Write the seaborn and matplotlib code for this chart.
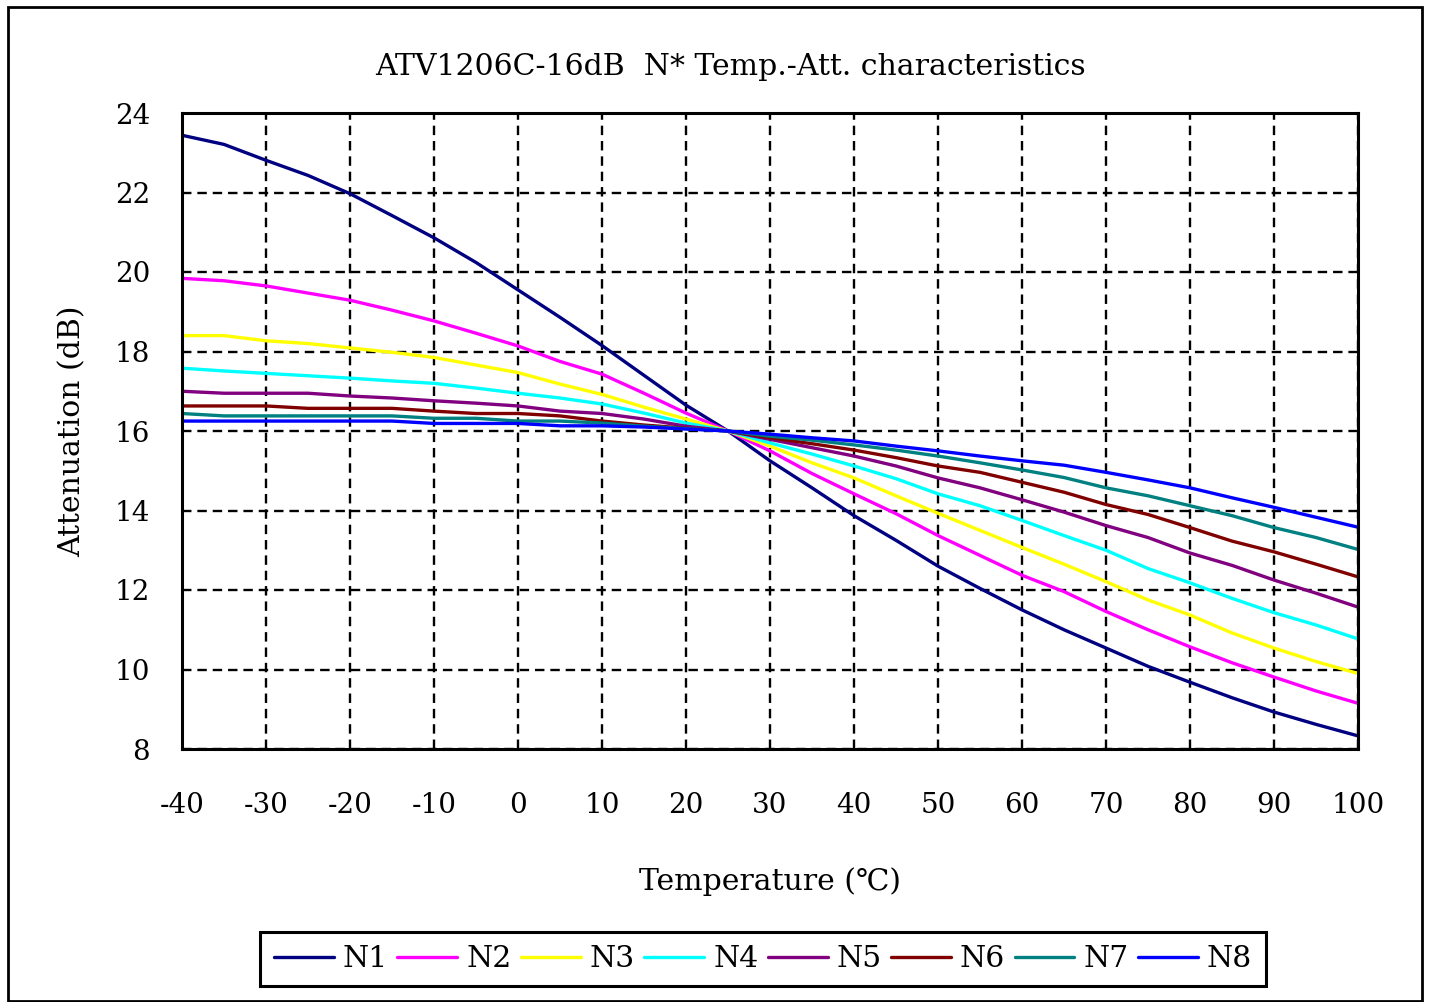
import numpy as np
import pandas as pd
import matplotlib
matplotlib.use("Agg")
import matplotlib.pyplot as plt
import seaborn as sns
from matplotlib.patches import Rectangle

temps = list(range(-40, 101, 5))

n1 = [23.44, 23.21, 22.81, 22.43, 21.97, 21.42, 20.86, 20.24, 19.55, 18.86, 18.15, 17.40, 16.65, 16.00,
      15.25, 14.57, 13.87, 13.25, 12.60, 12.04, 11.50, 11.00, 10.54, 10.08, 9.68, 9.29, 8.93, 8.62, 8.33]
n2 = [19.84, 19.78, 19.65, 19.47, 19.29, 19.04, 18.77, 18.46, 18.14, 17.75, 17.43, 16.95, 16.45, 16.00,
      15.50, 14.93, 14.42, 13.92, 13.37, 12.87, 12.37, 11.96, 11.46, 11.00, 10.57, 10.17, 9.81, 9.46, 9.15]
n3 = [18.40, 18.40, 18.27, 18.20, 18.09, 17.98, 17.85, 17.66, 17.47, 17.18, 16.92, 16.60, 16.30, 16.00,
      15.62, 15.20, 14.82, 14.37, 13.93, 13.50, 13.07, 12.65, 12.21, 11.75, 11.37, 10.92, 10.54, 10.20, 9.90]
n4 = [17.58, 17.51, 17.45, 17.39, 17.33, 17.26, 17.20, 17.08, 16.95, 16.83, 16.68, 16.45, 16.20, 16.00,
      15.70, 15.42, 15.12, 14.80, 14.42, 14.12, 13.75, 13.37, 13.00, 12.54, 12.18, 11.79, 11.43, 11.12, 10.77]
n5 = [17.00, 16.95, 16.95, 16.95, 16.88, 16.83, 16.76, 16.70, 16.63, 16.50, 16.44, 16.30, 16.12, 16.00,
      15.79, 15.58, 15.37, 15.12, 14.82, 14.57, 14.27, 13.96, 13.62, 13.32, 12.93, 12.62, 12.25, 11.92, 11.57]
n6 = [16.63, 16.63, 16.63, 16.57, 16.57, 16.57, 16.50, 16.44, 16.44, 16.38, 16.25, 16.15, 16.07, 16.00,
      15.83, 15.68, 15.52, 15.33, 15.12, 14.96, 14.71, 14.46, 14.15, 13.90, 13.57, 13.23, 12.96, 12.65, 12.33]
n7 = [16.44, 16.38, 16.38, 16.38, 16.38, 16.38, 16.32, 16.32, 16.25, 16.25, 16.20, 16.12, 16.06, 16.00,
      15.87, 15.77, 15.65, 15.52, 15.37, 15.20, 15.02, 14.83, 14.57, 14.37, 14.12, 13.87, 13.57, 13.32, 13.02]
n8 = [16.25, 16.25, 16.25, 16.25, 16.25, 16.25, 16.19, 16.19, 16.19, 16.13, 16.13, 16.10, 16.05, 16.00,
      15.92, 15.83, 15.75, 15.62, 15.50, 15.37, 15.25, 15.14, 14.96, 14.77, 14.57, 14.32, 14.08, 13.83, 13.58]

series_names = ["N1", "N2", "N3", "N4", "N5", "N6", "N7", "N8"]
series_values = [n1, n2, n3, n4, n5, n6, n7, n8]
colors = ["#000080", "#FF00FF", "#FFFF00", "#00FFFF", "#800080", "#800000", "#008080", "#0000FF"]

x_ticks = list(range(-40, 101, 10))
y_ticks = list(range(8, 25, 2))

title = "ATV1206C-16dB  N* Temp.-Att. characteristics"
xlabel = "Temperature (\u2103)"
ylabel = "Attenuation (dB)"

rows = []
for name, vals in zip(series_names, series_values):
    for t, v in zip(temps, vals):
        rows.append({"Temperature": t, "Attenuation": v, "Series": name})
df = pd.DataFrame(rows)

sns.set_style("white")
plt.rcParams['font.family'] = ['DejaVu Serif', 'DejaVu Sans']
plt.rcParams['axes.unicode_minus'] = False
plt.rcParams['text.color'] = 'black'
plt.rcParams['axes.labelcolor'] = 'black'
plt.rcParams['xtick.color'] = 'black'
plt.rcParams['ytick.color'] = 'black'

fig = plt.figure(figsize=(14.29, 10.02), dpi=100)
ax = fig.add_axes([182/1429, 1-749/1002, (1358-182)/1429, (749-113)/1002])

sns.lineplot(data=df, x="Temperature", y="Attenuation", hue="Series",
             palette=dict(zip(series_names, colors)), linewidth=2.4, ax=ax, legend=False)

ax.set_xlim(-40, 100)
ax.set_ylim(8, 24)
ax.set_xticks(x_ticks)
ax.set_yticks(y_ticks)
ax.grid(True, color="black", linestyle=(0, (4, 2.5)), linewidth=1.7)
ax.set_axisbelow(True)
for s in ax.spines.values():
    s.set_color("black")
    s.set_linewidth(2.2)
ax.tick_params(axis="both", length=0, labelsize=20, colors="black")
ax.tick_params(axis="x", pad=31)
ax.tick_params(axis="y", pad=23)
ax.set_xlabel(xlabel, fontsize=21.5, labelpad=35, color="black")
ax.set_ylabel(ylabel, fontsize=21.5, labelpad=20, color="black")
fig.text(730/1429, 1-67/1002, title, ha="center", va="center", fontsize=21.5, color="black")

handles = [plt.Line2D([0], [0], color=c, linewidth=2.4) for c in colors]
leg = fig.legend(handles, series_names, loc="center", bbox_to_anchor=(763/1429, 1-959/1002),
                 ncol=8, fontsize=21.5, frameon=True, fancybox=False, edgecolor="black",
                 handlelength=2.0, columnspacing=0.32, handletextpad=0.3, borderpad=0.45,
                 borderaxespad=0, labelcolor="black")
leg.get_frame().set_linewidth(2.2)
leg.get_frame().set_alpha(1)

fig.patches.append(Rectangle((8/1429, 0.001), (1422-8)/1429, 1-7/1002-0.001, transform=fig.transFigure,
                             fill=False, edgecolor="black", linewidth=2))

fig.savefig("out.png", dpi=100, facecolor="white")
